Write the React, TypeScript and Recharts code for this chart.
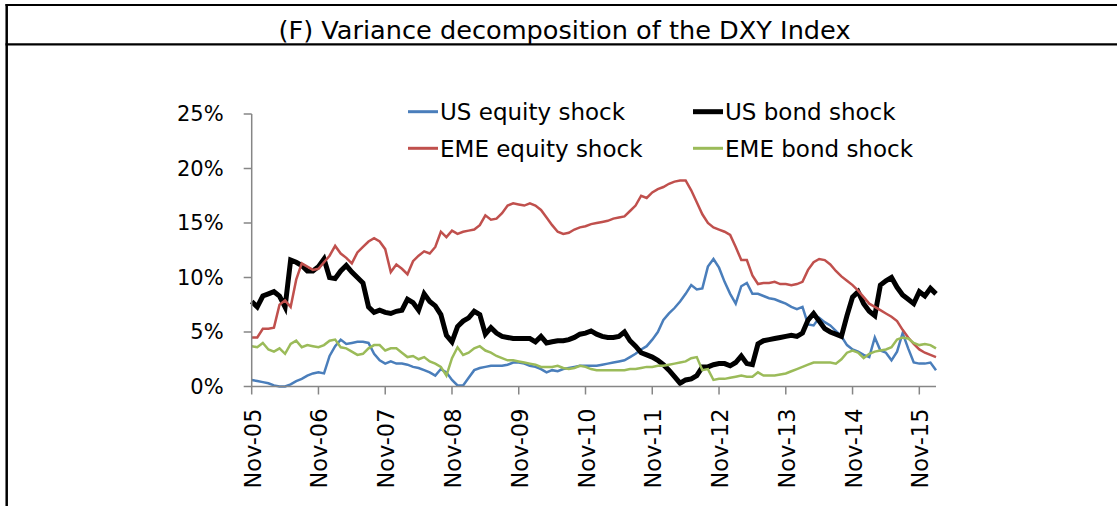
import React from 'react';
import { LineChart, Line, XAxis, YAxis } from 'recharts';

// monthly readings, index 0 = Nov-05, last = Feb/Mar-16 (percent)
const US_EQUITY = [
  0.6, 0.5, 0.4, 0.3, 0.1, 0.0, 0.0, 0.2, 0.5, 0.7,
  1.0, 1.2, 1.3, 1.2, 2.8, 3.7, 4.3, 3.9, 4.0, 4.1,
  4.1, 4.0, 3.0, 2.4, 2.1, 2.3, 2.1, 2.1, 2.0, 1.8,
  1.7, 1.5, 1.3, 1.0, 1.6, 1.3, 0.6, 0.1, 0.1, 0.8,
  1.5, 1.7, 1.8, 1.9, 1.9, 1.9, 2.0, 2.2, 2.2, 2.1,
  1.9, 1.8, 1.6, 1.3, 1.5, 1.4, 1.6, 1.7, 1.8, 1.9,
  1.9, 1.9, 1.9, 2.0, 2.1, 2.2, 2.3, 2.4, 2.7, 3.0,
  3.4, 3.7, 4.3, 5.0, 6.1, 6.7, 7.2, 7.8, 8.5, 9.3,
  8.9, 9.0, 11.0, 11.7, 10.9, 9.6, 8.5, 7.6, 9.2, 9.5,
  8.5, 8.5, 8.3, 8.1, 8.0, 7.8, 7.6, 7.3, 7.1, 7.3,
  5.7, 5.6, 6.3, 5.9, 5.6, 5.1, 4.6, 3.8, 3.4, 3.2,
  2.9, 2.7, 4.5, 3.3, 3.1, 2.4, 3.2, 4.9, 3.5, 2.2,
  2.1, 2.1, 2.2, 1.5,
];

const US_BOND = [
  7.8, 7.3, 8.3, 8.5, 8.7, 8.3, 7.3, 11.6, 11.4, 11.1,
  10.6, 10.6, 11.0, 11.7, 10.0, 9.9, 10.6, 11.1, 10.5, 10.0,
  9.5, 7.3, 6.8, 7.0, 6.8, 6.7, 6.9, 7.0, 8.0, 7.7,
  7.0, 8.5, 7.8, 7.4, 6.6, 4.7, 4.1, 5.5, 6.0, 6.3,
  6.9, 6.6, 4.8, 5.4, 4.9, 4.6, 4.5, 4.4, 4.4, 4.4,
  4.4, 4.1, 4.6, 4.0, 4.1, 4.2, 4.2, 4.3, 4.5, 4.8,
  4.9, 5.1, 4.8, 4.6, 4.5, 4.5, 4.6, 5.0, 4.2, 3.7,
  3.1, 2.9, 2.7, 2.4, 2.0, 1.5, 0.9, 0.3, 0.6, 0.7,
  1.0, 1.8, 1.8, 2.0, 2.1, 2.1, 1.9, 2.2, 2.8, 2.1,
  2.0, 3.9, 4.2, 4.3, 4.4, 4.5, 4.6, 4.7, 4.6, 4.9,
  6.1, 6.7, 6.0, 5.3, 5.0, 4.8, 4.6, 6.5, 8.2, 8.7,
  7.6, 6.9, 6.5, 9.3, 9.7, 10.0, 9.1, 8.4, 8.0, 7.6,
  8.7, 8.3, 9.0, 8.5,
];

const EME_EQUITY = [
  4.5, 4.5, 5.3, 5.3, 5.4, 7.5, 7.9, 7.3, 9.8, 11.3,
  11.0, 10.7, 10.8, 11.4, 12.0, 12.9, 12.2, 11.8, 11.3, 12.3,
  12.8, 13.3, 13.6, 13.3, 12.6, 10.5, 11.2, 10.8, 10.3, 11.5,
  12.0, 12.4, 12.2, 12.8, 14.2, 13.7, 14.3, 14.0, 14.2, 14.3,
  14.4, 14.8, 15.7, 15.3, 15.4, 15.9, 16.6, 16.8, 16.7, 16.6,
  16.8, 16.6, 16.2, 15.5, 14.8, 14.2, 14.0, 14.1, 14.4, 14.6,
  14.7, 14.9, 15.0, 15.1, 15.2, 15.4, 15.5, 15.6, 16.1, 16.6,
  17.5, 17.3, 17.8, 18.1, 18.3, 18.6, 18.8, 18.9, 18.9, 18.0,
  16.9, 15.8, 15.0, 14.6, 14.4, 14.2, 13.9, 12.8, 11.6, 11.6,
  10.2, 9.4, 9.5, 9.5, 9.6, 9.4, 9.4, 9.3, 9.4, 9.6,
  10.7, 11.4, 11.7, 11.6, 11.2, 10.6, 10.1, 9.7, 9.3, 8.8,
  8.2, 7.6, 7.3, 7.0, 6.7, 6.4, 6.0, 5.2, 4.5, 3.9,
  3.4, 3.1, 2.9, 2.7,
];

const EME_BOND = [
  3.7, 3.6, 4.0, 3.4, 3.2, 3.5, 3.0, 3.9, 4.2, 3.6,
  3.8, 3.7, 3.6, 3.8, 4.2, 4.3, 3.6, 3.5, 3.2, 2.9,
  3.0, 3.5, 3.8, 3.8, 3.3, 3.5, 3.5, 3.1, 2.7, 2.8,
  2.5, 2.7, 2.3, 2.1, 1.8, 1.0, 2.6, 3.6, 2.9, 3.1,
  3.5, 3.7, 3.3, 3.1, 2.8, 2.6, 2.4, 2.4, 2.3, 2.2,
  2.1, 2.0, 1.8, 1.8, 1.8, 1.9, 1.7, 1.6, 1.7, 1.9,
  1.8, 1.6, 1.5, 1.5, 1.5, 1.5, 1.5, 1.5, 1.6, 1.6,
  1.7, 1.8, 1.8, 1.9, 1.9, 2.0, 2.1, 2.2, 2.3, 2.6,
  2.7, 1.5, 1.6, 0.6, 0.7, 0.7, 0.8, 0.9, 1.0, 0.9,
  0.9, 1.3, 1.0, 1.0, 1.0, 1.1, 1.2, 1.4, 1.6, 1.8,
  2.0, 2.2, 2.2, 2.2, 2.2, 2.1, 2.5, 3.1, 3.3, 3.1,
  2.6, 3.0, 3.2, 3.3, 3.4, 3.6, 4.3, 4.5, 4.4, 4.0,
  3.8, 3.9, 3.8, 3.5,
];

const X_TICK_LABELS = [
  'Nov-05', 'Nov-06', 'Nov-07', 'Nov-08', 'Nov-09', 'Nov-10',
  'Nov-11', 'Nov-12', 'Nov-13', 'Nov-14', 'Nov-15',
];
const Y_TICKS = [0, 5, 10, 15, 20, 25];

const SERIES = [
  { key: 'usEquity', name: 'US equity shock', color: '#4A7EBB', width: 2.5 },
  { key: 'usBond', name: 'US bond shock', color: '#000000', width: 5 },
  { key: 'emeEquity', name: 'EME equity shock', color: '#C0504D', width: 2.5 },
  { key: 'emeBond', name: 'EME bond shock', color: '#9BBB59', width: 2.5 },
];

const data = US_EQUITY.map((v, i) => ({
  m: i,
  usEquity: v,
  usBond: US_BOND[i],
  emeEquity: EME_EQUITY[i],
  emeBond: EME_BOND[i],
}));

const xTicks = X_TICK_LABELS.map((_, i) => i * 12);

const FONT = '"DejaVu Sans", sans-serif';
const AXIS_GRAY = '#868686';

const XTick = (props: any) => {
  const { x, y, payload } = props;
  const label = X_TICK_LABELS[Math.round(payload.value / 12)];
  return (
    <g transform={`translate(${x},${y + 12})`}>
      <text
        transform="rotate(-90)"
        textAnchor="end"
        dy="0.4em"
        fontFamily={FONT}
        fontSize={22.5}
        fill="#000"
      >
        {label}
      </text>
    </g>
  );
};

// legend drawn as an overlay, 2 x 2 like the original
const ChartLegend = () => {
  const cols = [408, 693];
  const rows = [111.7, 148.3];
  return (
    <g>
      {SERIES.map((s, i) => {
        const cx = cols[i % 2];
        const cy = rows[Math.floor(i / 2)];
        return (
          <g key={s.key}>
            <line x1={cx} y1={cy} x2={cx + 30} y2={cy} stroke={s.color} strokeWidth={s.width === 5 ? 5 : 3} />
            <text x={cx + 32} y={cy + 8.4} fontFamily={FONT} fontSize={23} fill="#000">
              {s.name}
            </text>
          </g>
        );
      })}
    </g>
  );
};

export default function App() {
  return (
    <div style={{ position: 'absolute', left: 0, top: 0, width: 1117, height: 506, background: '#fff' }}>
      <div style={{ position: 'absolute', left: 0, top: 0 }}>
        <LineChart
          width={1117}
          height={506}
          data={data}
          margin={{ top: 114, right: 181, bottom: 19.5, left: 151.7 }}
        >
          <XAxis
            dataKey="m"
            type="number"
            domain={[0, 123]}
            ticks={xTicks}
            interval={0}
            tick={<XTick />}
            tickSize={8}
            stroke={AXIS_GRAY}
            strokeWidth={1.5}
            height={100}
          />
          <YAxis
            type="number"
            domain={[0, 25]}
            ticks={Y_TICKS}
            interval={0}
            tickFormatter={(v: number) => `${v}%`}
            tick={{ fontFamily: FONT, fontSize: 21, fill: '#000' }}
            tickSize={8}
            tickMargin={20}
            stroke={AXIS_GRAY}
            strokeWidth={1.5}
            width={100}
          />
          {SERIES.map((s) => (
            <Line
              key={s.key}
              type="linear"
              dataKey={s.key}
              name={s.name}
              stroke={s.color}
              strokeWidth={s.width}
              dot={false}
              isAnimationActive={false}
            />
          ))}
        </LineChart>
      </div>
      <svg width={1117} height={506} style={{ position: 'absolute', left: 0, top: 0, pointerEvents: 'none' }}>
        <line x1={6.7} y1={4} x2={6.7} y2={506} stroke="#000" strokeWidth={2.5} />
        <line x1={5.5} y1={5} x2={1117} y2={5} stroke="#000" strokeWidth={2.2} />
        <line x1={5.5} y1={44.3} x2={1117} y2={44.3} stroke="#000" strokeWidth={2.2} />
        <text x={564.5} y={39} textAnchor="middle" fontFamily={FONT} fontSize={25.6} fill="#000">
          (F) Variance decomposition of the DXY Index
        </text>
        <ChartLegend />
      </svg>
    </div>
  );
}
